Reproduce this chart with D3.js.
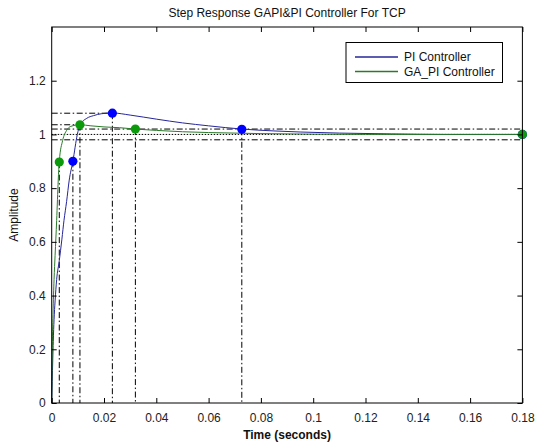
<!DOCTYPE html>
<html><head><meta charset="utf-8">
<script src="https://cdn.jsdelivr.net/npm/d3@7"></script>
<style>body{margin:0;background:#fff}svg{display:block;font-family:"Liberation Sans",Arial,sans-serif}</style>
</head><body>
<svg id="c" width="535" height="446"></svg>
<script>
// ---- data ----
const piT = [0,0.0002,0.0004,0.0006,0.0009,0.0013,0.0019,0.0029,0.0039,0.0047,0.0057,0.0067,0.0081,0.0098,0.0108,0.0134,0.016,0.019,0.0232,0.03,0.04,0.05,0.06,0.0727,0.085,0.095,0.11,0.13,0.15,0.18];
const piY = [0,0.08,0.16,0.23,0.31,0.38,0.46,0.53,0.61,0.68,0.75,0.83,0.9,1.0,1.035,1.06,1.07,1.077,1.08,1.072,1.057,1.043,1.032,1.02,1.013,1.009,1.005,1.002,1.0,1.0];
const gaT = [0,0.0002,0.0005,0.0009,0.0013,0.0019,0.0025,0.0029,0.0042,0.0057,0.0073,0.0108,0.015,0.02,0.026,0.032,0.04,0.05,0.06,0.08,0.1,0.12,0.18];
const gaY = [0,0.18,0.33,0.46,0.55,0.68,0.83,0.9,0.978,1.015,1.03,1.036,1.032,1.028,1.025,1.02,1.015,1.01,1.007,1.003,1.001,1.0,1.0];
// characteristic points: rise, peak, settling, steady state
const piMarkT = [0.0081,0.0232,0.0727,0.18];
const piMarkY = [0.9,1.079,1.019,1.0];
const gaMarkT = [0.0029,0.0108,0.032,0.18];
const gaMarkY = [0.897,1.036,1.02,1.0];
const boundLevels = [1.02,0.98];
const steadyLevel = 1.0;
const xTicks = [0,0.02,0.04,0.06,0.08,0.1,0.12,0.14,0.16,0.18];
const yTicks = [0,0.2,0.4,0.6,0.8,1,1.2];
const seriesNames = ["PI Controller","GA_PI Controller"];
const titleText = "Step Response GAPI&PI Controller For TCP";

// ---- drawing ----
const svg = d3.select("#c");
const L=51.7, R=522.4, T=27, B=403;
const x = d3.scaleLinear().domain([0,0.18]).range([L,R]);
const y = d3.scaleLinear().domain([0,1.4]).range([B,T]);
const blueLine="#26269a", blueMark="#0000ff", greenLine="#2a7a2a", greenMark="#0c9a0c";
const dashDot="6,2.5,1.5,2.5";

const g = svg.append("g");
// reference lines
function hline(v,t0,t1,dash){g.append("line").attr("x1",x(t0)).attr("x2",x(t1)).attr("y1",y(v)).attr("y2",y(v)).attr("stroke","#000").attr("stroke-width",1).attr("stroke-dasharray",dash);}
function vline(t,v0,v1,dash){g.append("line").attr("x1",x(t)).attr("x2",x(t)).attr("y1",y(v0)).attr("y2",y(v1)).attr("stroke","#000").attr("stroke-width",1).attr("stroke-dasharray",dash);}
boundLevels.forEach(v=>hline(v,0,0.18,dashDot));
hline(steadyLevel,0,0.18,"1.5,1.5");
[[piMarkT,piMarkY],[gaMarkT,gaMarkY]].forEach(([ts,vs])=>{
  for(let i=0;i<3;i++){ vline(ts[i],vs[i],0,dashDot); }
  hline(vs[1],0,ts[1],dashDot);
});

// curves
const line = d3.line().curve(d3.curveMonotoneX);
g.append("path").attr("d",line(piT.map((t,i)=>[x(t),y(piY[i])]))).attr("fill","none").attr("stroke",blueLine).attr("stroke-width",1);
g.append("path").attr("d",line(gaT.map((t,i)=>[x(t),y(gaY[i])]))).attr("fill","none").attr("stroke",greenLine).attr("stroke-width",1);

// markers
piMarkT.forEach((t,i)=>g.append("circle").attr("cx",x(t)).attr("cy",y(piMarkY[i])).attr("r",4.6).attr("fill",blueMark));
gaMarkT.forEach((t,i)=>g.append("circle").attr("cx",x(t)).attr("cy",y(gaMarkY[i])).attr("r",4.6).attr("fill",greenMark));

// axes with inner ticks on all sides
const fmt = d=>d3.format("")(+d.toFixed(2));
const ax = g => g.call(s=>s.select(".domain").remove()).selectAll("text").attr("font-family","Liberation Sans, Arial, sans-serif").attr("font-size",12).attr("fill","#222");
svg.append("g").attr("transform",`translate(0,${B})`).call(d3.axisBottom(x).tickValues(xTicks).tickSize(-5).tickPadding(10).tickFormat(fmt)).call(ax);
svg.append("g").attr("transform",`translate(0,${T})`).call(d3.axisTop(x).tickValues(xTicks).tickSize(-5).tickFormat("")).call(ax);
svg.append("g").attr("transform",`translate(${L},0)`).call(d3.axisLeft(y).tickValues(yTicks).tickSize(-5).tickPadding(6).tickFormat(fmt)).call(ax);
svg.append("g").attr("transform",`translate(${R},0)`).call(d3.axisRight(y).tickValues(yTicks).tickSize(-5).tickFormat("")).call(ax);
svg.selectAll(".tick line").attr("stroke","#000");
svg.append("rect").attr("x",L).attr("y",T).attr("width",R-L).attr("height",B-T).attr("fill","none").attr("stroke","#000").attr("stroke-width",1);

// texts
svg.append("text").attr("x",(L+R)/2).attr("y",17).attr("text-anchor","middle").attr("font-size",12).attr("fill","#111").text(titleText);
svg.append("text").attr("x",(L+R)/2).attr("y",439).attr("text-anchor","middle").attr("font-size",12).attr("font-weight","bold").attr("fill","#111").text("Time (seconds)");
svg.append("text").attr("transform",`translate(18,${(T+B)/2}) rotate(-90)`).attr("text-anchor","middle").attr("font-size",12).attr("fill","#111").text("Amplitude");

// legend
const lg = svg.append("g");
lg.append("rect").attr("x",346).attr("y",42.5).attr("width",156.5).attr("height",40).attr("fill","#fff").attr("stroke","#000").attr("stroke-width",1);
[[blueLine,seriesNames[0],57],[greenLine,seriesNames[1],71.5]].forEach(([c,name,yy])=>{
  lg.append("line").attr("x1",355).attr("x2",398).attr("y1",yy).attr("y2",yy).attr("stroke",c).attr("stroke-width",1.3);
  lg.append("text").attr("x",404).attr("y",yy+4.3).attr("font-size",12).attr("fill","#111").text(name);
});
</script>
</body></html>
